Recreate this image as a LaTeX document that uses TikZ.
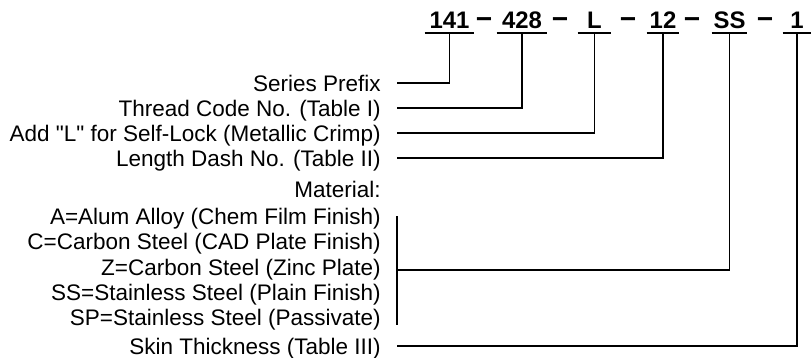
\documentclass[tikz,border=0pt]{standalone}
\usepackage{fontspec}
\setmainfont{Liberation Sans}
\usetikzlibrary{positioning,calc}
\tikzset{
    code/.style={font=\fontsize{17}{20}\selectfont\bfseries, anchor=south,
        inner xsep=0pt, inner ysep=0.1cm, text depth=0pt},
    sep/.style={font=\fontsize{20}{22}\selectfont\bfseries, inner sep=0pt, anchor=base},
    lbl/.style={font=\fontsize{16}{19}\selectfont, anchor=east,
        inner xsep=0.4cm, inner ysep=0pt, text height=11.5pt, text depth=0pt},
    wire/.style={line width=1.4pt}
}

\begin{document}
\begin{tikzpicture}[x=0.025cm, y=-0.025cm]
        \useasboundingbox (0,0) rectangle (811,357);
        % part number
        \node[code, minimum width=1.225cm] (c141) at (449.5,33) {141};
        \node[code, minimum width=1.25cm] (c428) at (522,33) {428};
        \node[code, minimum width=0.825cm] (cL) at (594.5,33) {L};
        \node[code, minimum width=0.8cm] (c12) at (663,33) {12};
        \node[code, minimum width=0.875cm] (cSS) at (729.5,33) {SS};
        \node[code, minimum width=0.7cm] (c1) at (797,33) {1};
        \node[sep] (d1) at (484,28.5) {−};
        \node[sep] (d2) at (560,28.5) {−};
        \node[sep] (d3) at (628,28.5) {−};
        \node[sep] (d4) at (692,28.5) {−};
        \node[sep] (d5) at (765,28.5) {−};
        \foreach \n in {c141,c428,cL,c12,cSS,c1}
            \draw[wire] (\n.south west) -- (\n.south east);
        % descriptions
        \node[lbl] (series) at (397,83) {Series Prefix};
        \node[lbl] (thread) at (397,108) {Thread Code No. (Table I)};
        \node[lbl] (lock) at (397,133) {Add \textquotedbl L\textquotedbl{} for Self-Lock (Metallic Crimp)};
        \node[lbl] (length) at (397,158) {Length Dash No. (Table II)};
        \node[lbl] (mat) at (397,189) {Material:};
        \node[lbl] (matA) at (397,216) {A=Alum Alloy (Chem Film Finish)};
        \node[lbl] (matC) at (397,241) {C=Carbon Steel (CAD Plate Finish)};
        \node[lbl] (matZ) at (397,267) {Z=Carbon Steel (Zinc Plate)};
        \node[lbl] (matSS) at (397,292) {SS=Stainless Steel (Plain Finish)};
        \node[lbl] (matSP) at (397,317) {SP=Stainless Steel (Passivate)};
        \node[lbl] (skin) at (397,346) {Skin Thickness (Table III)};
        \coordinate (bartop) at (397,216);
        \coordinate (barbot) at (397,325);
        \coordinate (barmid) at (397,270);
        % leaders
        \draw[wire] (c141.south) |- (series.east);
        \draw[wire] (c428.south) |- (thread.east);
        \draw[wire] (cL.south) |- (lock.east);
        \draw[wire] (c12.south) |- (length.east);
        \draw[wire] (bartop) -- (barbot);
        \draw[wire] (cSS.south) |- (barmid);
        \draw[wire] (c1.south) |- (skin.east);
    \end{tikzpicture}
\end{document}
